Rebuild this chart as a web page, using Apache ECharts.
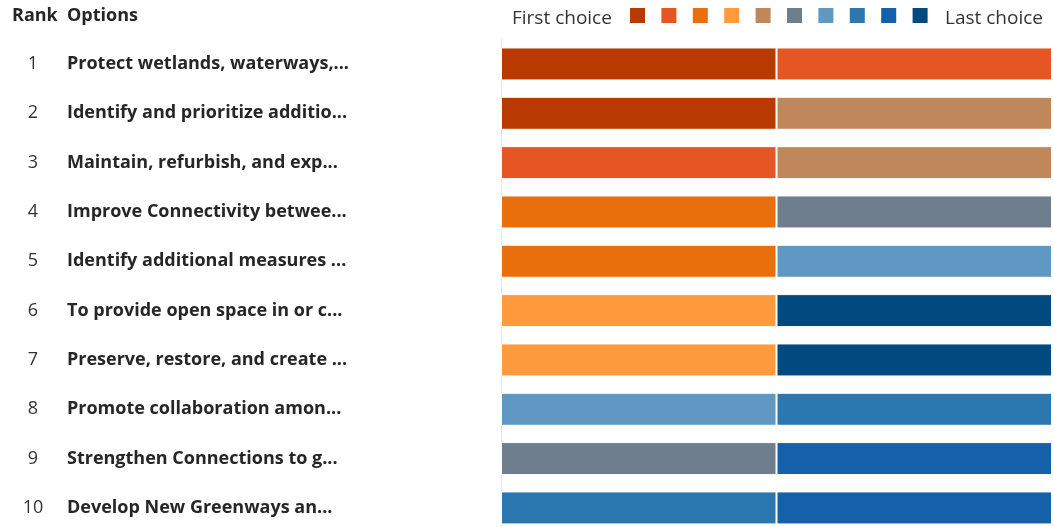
<!DOCTYPE html>
<html>
<head>
<meta charset="utf-8">
<script src="https://cdn.jsdelivr.net/npm/echarts@6/dist/echarts.min.js"></script>
<style>
html,body{margin:0;padding:0;background:#fff;}
#chart{width:1054px;height:527px;}
</style>
</head>
<body>
<div id="chart"></div>
<script>
// Ranked options (top to bottom)
const ranks = ['1','2','3','4','5','6','7','8','9','10'];
const optionLabels = [
  'Protect wetlands, waterways,...',
  'Identify and prioritize additio...',
  'Maintain, refurbish, and exp...',
  'Improve Connectivity betwee...',
  'Identify additional measures ...',
  'To provide open space in or c...',
  'Preserve, restore, and create ...',
  'Promote collaboration amon...',
  'Strengthen Connections to g...',
  'Develop New Greenways an...'
];
// Number of respondents placing each option at each choice position
const choiceNames = ['1st choice','2nd choice','3rd choice','4th choice','5th choice','6th choice','7th choice','8th choice','9th choice','10th choice'];
const choice1  = [1,1,0,0,0,0,0,0,0,0];
const choice2  = [1,0,1,0,0,0,0,0,0,0];
const choice3  = [0,0,0,1,1,0,0,0,0,0];
const choice4  = [0,0,0,0,0,1,1,0,0,0];
const choice5  = [0,1,1,0,0,0,0,0,0,0];
const choice6  = [0,0,0,1,0,0,0,0,1,0];
const choice7  = [0,0,0,0,1,0,0,1,0,0];
const choice8  = [0,0,0,0,0,0,0,1,0,1];
const choice9  = [0,0,0,0,0,0,0,0,1,1];
const choice10 = [0,0,0,0,0,1,1,0,0,0];
const choiceCounts = [choice1,choice2,choice3,choice4,choice5,choice6,choice7,choice8,choice9,choice10];
const palette = ['#B93A00','#E65524','#E96F0C','#FF9A3D','#C0875B','#6E7E8F','#5F98C3','#2B78B1','#1460AA','#004A80'];

const FONT = "'Open Sans', 'Noto Sans', sans-serif";
const chart = echarts.init(document.getElementById('chart'), null, {renderer:'canvas'});

const series = choiceNames.map((name, i) => ({
  name: name,
  type: 'bar',
  stack: 'rank',
  barWidth: 33,
  yAxisIndex: 0,
  itemStyle: { color: palette[i], borderColor: '#ffffff', borderWidth: 1 },
  emphasis: { disabled: true },
  data: choiceCounts[i].map(v => v === 0 ? '-' : v)
}));

chart.setOption({
  animation: false,
  backgroundColor: '#ffffff',
  textStyle: { fontFamily: FONT },
  title: [
    { text: 'Rank', left: 7, top: 2, textStyle: { fontFamily: FONT, fontSize: 18, fontWeight: 'bold', color: '#262626' } },
    { text: 'Options', left: 62, top: 2, textStyle: { fontFamily: FONT, fontSize: 18, fontWeight: 'bold', color: '#262626' } },
    { text: 'First choice', left: 507, top: 4, textStyle: { fontFamily: FONT, fontSize: 19, fontWeight: 'normal', color: '#333333' } },
    { text: 'Last choice', left: 940, top: 4, textStyle: { fontFamily: FONT, fontSize: 19, fontWeight: 'normal', color: '#333333' } }
  ],
  legend: {
    left: 625,
    top: 3,
    icon: 'rect',
    itemWidth: 15,
    itemHeight: 15,
    itemGap: 16.4,
    formatter: () => '',
    selectedMode: false,
    itemStyle: { borderWidth: 0 },
    data: choiceNames
  },
  grid: { left: 501, right: 2, top: 39.3, height: 493.3, containLabel: false, outerBoundsMode: 'none' },
  xAxis: { type: 'value', min: 0, max: 2, show: false },
  yAxis: [
    {
      type: 'category', data: ranks, inverse: true, position: 'left',
      axisLine: { show: true, lineStyle: { color: '#e6e6e6', width: 1 } },
      axisTick: { show: false },
      axisLabel: { align: 'center', margin: 468, fontFamily: FONT, fontSize: 18, color: '#333333' }
    },
    {
      type: 'category', data: optionLabels, inverse: true, position: 'left',
      axisLine: { show: false }, axisTick: { show: false },
      axisLabel: { align: 'left', margin: 434, fontFamily: FONT, fontSize: 18, fontWeight: 'bold', color: '#262626' }
    }
  ],
  series: series
});
</script>
</body>
</html>
